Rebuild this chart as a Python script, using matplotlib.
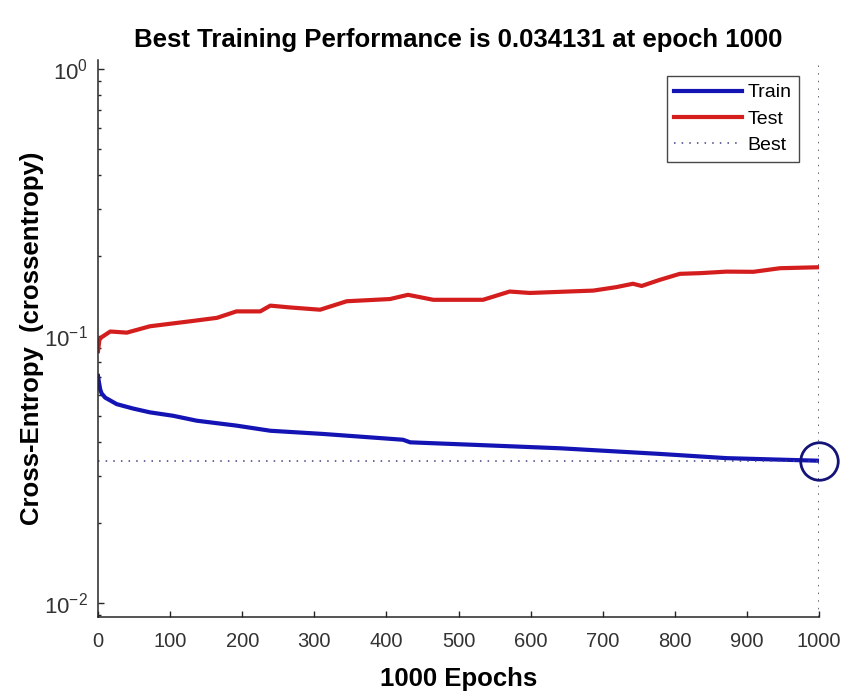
import numpy as np
import matplotlib
matplotlib.use("Agg")
import matplotlib.pyplot as plt

plt.rcParams['font.family'] = ['Liberation Sans', 'DejaVu Sans']
plt.rcParams['mathtext.fontset'] = 'custom'
plt.rcParams['mathtext.rm'] = 'Liberation Sans'
plt.rcParams['mathtext.it'] = 'Liberation Sans'

# values
train_epochs = [0, 1, 3, 5, 10, 26, 49, 72, 104, 137, 192, 239, 312, 423, 433,
                516, 641, 779, 872, 1000]
train_ce = [0.0709, 0.0680, 0.0632, 0.0610, 0.0588, 0.0556, 0.0535, 0.0518,
            0.0503, 0.0482, 0.0462, 0.0442, 0.0430, 0.0409, 0.0400, 0.0392,
            0.0380, 0.0362, 0.0349, 0.034131]

test_epochs = [0, 2, 5, 17, 40, 72, 128, 165, 192, 225, 239, 266, 308, 345, 405,
               430, 465, 534, 571, 599, 687, 719, 742, 754, 779, 807, 835, 872,
               909, 946, 1000]
test_ce = [0.0878, 0.097, 0.099, 0.104, 0.103, 0.1088, 0.1136, 0.117, 0.1237,
           0.1237, 0.130, 0.128, 0.1255, 0.135, 0.1376, 0.1427, 0.1367, 0.1367,
           0.1468, 0.145, 0.148, 0.1525, 0.157, 0.154, 0.1623, 0.171, 0.172,
           0.1743, 0.174, 0.1795, 0.181]

best_epoch = 1000
best_perf = 0.034131
n_epochs = 1000
ytick_vals = [0.01, 0.1, 1]
ytick_text = ['10$^{\\mathregular{-2}}$', '10$^{\\mathregular{-1}}$', '10$^{\\mathregular{0}}$']

fig = plt.figure(figsize=(8.56, 6.97), dpi=100)
ax = fig.add_axes([98 / 856, 1 - 617 / 697, (819 - 98) / 856, (617 - 60) / 697])

ax.plot(train_epochs, train_ce, color='#1414b4', lw=3, label='Train')
ax.plot(test_epochs, test_ce, color='#d41e1e', lw=3, label='Test')
ax.plot([0, best_epoch], [best_perf, best_perf], color='#404088', lw=1.1,
        ls=(0, (1, 4)), label='Best')
ax.axvline(best_epoch, color='#404058', lw=1.1, ls=(0, (1, 4)))
ax.plot([best_epoch], [best_perf], 'o', mfc='none', mec='#141478', ms=27,
        mew=2, clip_on=False)

ax.set_yscale('log')
ax.set_xlim(0, n_epochs)
ax.set_ylim(10 ** (-2.052), 10 ** 0.0337)
ax.set_xticks(np.arange(0, 1001, 100))
ax.set_yticks(ytick_vals)
ax.set_yticklabels(ytick_text)

for s in ['top', 'right']:
    ax.spines[s].set_visible(False)
for s in ['left', 'bottom']:
    ax.spines[s].set_color('#262626')
    ax.spines[s].set_linewidth(1.1)

ax.tick_params(which='both', direction='in', colors='#262626', labelcolor='#333333',
               labelsize=14.5, width=1)
ax.tick_params(which='major', length=4.5)
ax.tick_params(which='minor', length=2.5)
ax.tick_params(axis='x', pad=11)
ax.tick_params(axis='y', pad=7, labelsize=16)

ax.set_title('Best Training Performance is %g at epoch %d' % (best_perf, best_epoch),
             fontsize=18.5, fontweight='bold', pad=9)
ax.set_xlabel('%d Epochs' % n_epochs, fontsize=18.5, fontweight='bold', labelpad=11)
ax.set_ylabel('Cross-Entropy  (crossentropy)', fontsize=18.5, fontweight='bold',
              labelpad=0)

leg = ax.legend(loc='upper right', bbox_to_anchor=(0.9723, 0.9713), borderaxespad=0,
                fancybox=False, frameon=True, fontsize=14, handlelength=3.5,
                handletextpad=0.25, labelspacing=0.45, borderpad=0.4)
leg.get_frame().set_edgecolor('#1a1a1a')
leg.get_frame().set_linewidth(1.0)

fig.savefig('out.png', dpi=100)
